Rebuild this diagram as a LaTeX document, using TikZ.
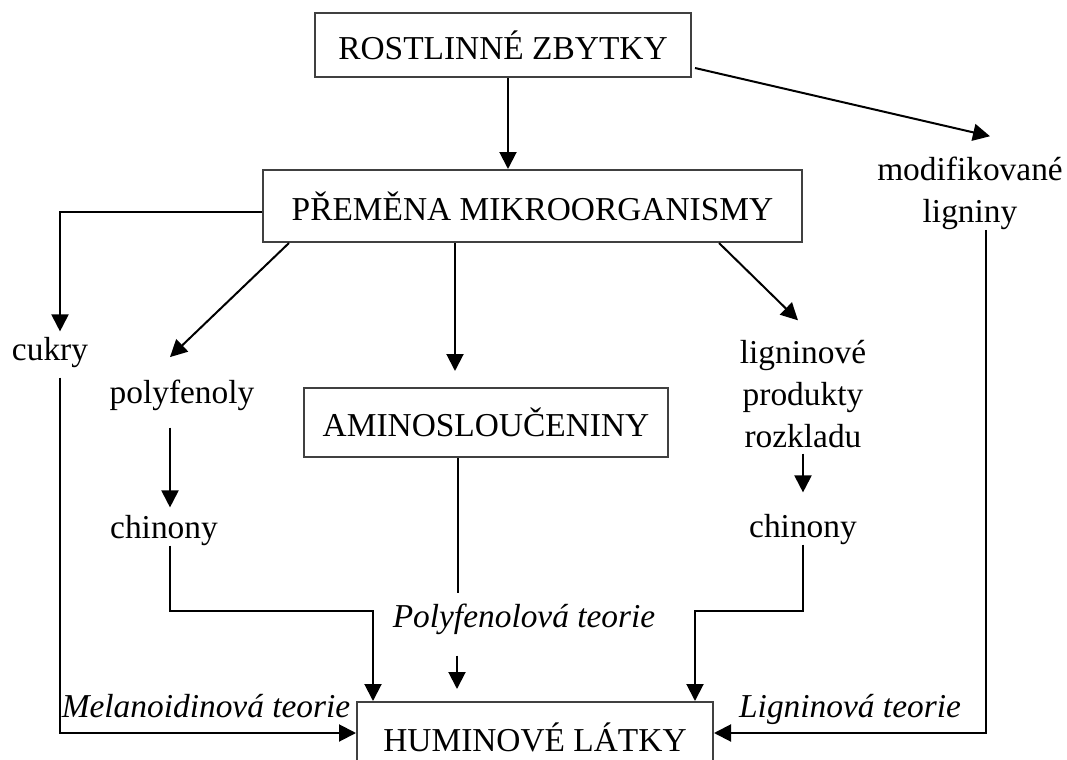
\documentclass[tikz,border=0pt]{standalone}
\usepackage{fontspec}
\setmainfont{Liberation Serif}
\usetikzlibrary{arrows.meta}
\newcommand{\diagfont}{\fontsize{16.7}{21}\selectfont}
\begin{document}
\begin{tikzpicture}[x=0.5pt,y=-0.5pt]

% definitions
\tikzstyle{box} = [rectangle, draw=black!75, line width=1pt, inner sep=0pt, font=\diagfont]
\tikzstyle{txt} = [inner sep=0pt, anchor=base, font=\diagfont]
\tikzstyle{multi} = [inner sep=0pt, align=center, font=\diagfont]
\tikzstyle{theory} = [inner sep=0pt, anchor=base, font=\diagfont\itshape]


\tikzstyle{arrow} = [-{Triangle[length=8.5pt,width=8.5pt]}, line width=1pt]
\tikzstyle{line} = [line width=1pt]

\useasboundingbox (0,0) rectangle (1067,760);

% the graph
\node (rz) [box, minimum width=188pt, minimum height=32pt] at (503,45) {ROSTLINNÉ ZBYTKY};
\node (pm) [box, minimum width=269.5pt, minimum height=36pt] at (532.5,206) {PŘEMĚNA MIKROORGANISMY};
\node (am) [box, minimum width=182pt, minimum height=34.5pt] at (486,422.5) {AMINOSLOUČENINY};
\node (hl) [box, minimum width=178pt, minimum height=35pt] at (535,737) {HUMINOVÉ LÁTKY};

\node (ml) [multi] at (970,193) {modifikované\\ligniny};
\node (cukry) [txt] at (50,360) {cukry};
\node (pf) [txt] at (182,403) {polyfenoly};
\node (ch1) [txt] at (164,538) {chinony};
\node (lp) [multi] at (803,394.5) {ligninové\\produkty\\rozkladu};
\node (ch2) [txt] at (803,537) {chinony};

\node (pt) [theory] at (524,627) {Polyfenolová teorie};
\node (mt) [theory] at (206,717) {Melanoidinová teorie};
\node (lt) [theory] at (850,717) {Ligninová teorie};


\draw [arrow] ([xshift=2.5pt]rz.south) -- ([xshift=2.5pt]rz.south |- pm.north);
\draw [arrow] ([xshift=1.5pt,yshift=-11.5pt]rz.east) -- ([xshift=10pt,yshift=10pt]ml.north);

\draw [arrow] ([yshift=-3pt]pm.west) -| ([xshift=5pt,yshift=2.5pt]cukry.north);
\draw [arrow] ([xshift=5pt,yshift=-5pt]cukry.south) |- ([yshift=2pt]hl.west);

\draw [arrow] ([xshift=13.5pt]pm.south west) -- ([xshift=-6pt,yshift=11pt]pf.north);
\draw [arrow] ([xshift=-6pt,yshift=-8.5pt]pf.south) -- ([xshift=3pt,yshift=3.5pt]ch1.north);
\draw [arrow] ([xshift=3pt]ch1.south) -- ++(0,65) -| ([xshift=-81pt]hl.north);

\draw [arrow] ([xshift=-38.75pt]pm.south) -- ([xshift=-15.5pt,yshift=8pt]am.north);
\draw [line] ([xshift=-14pt]am.south) -- ([xshift=-14pt,yshift=-67.5pt]am.south);
\draw [arrow] ([xshift=-33.5pt,yshift=-10.5pt]pt.south) -- ([xshift=-39pt,yshift=6pt]hl.north);

\draw [arrow] ([xshift=-42pt]pm.south east) -- ([xshift=-2.5pt,yshift=10pt]lp.north);
\draw [arrow] ([yshift=-2.5pt]lp.south) -- ([yshift=10.5pt]ch2.north);
\draw [arrow] (ch2.south) -- ++(0,66) -| ([xshift=80pt]hl.north);

\draw [arrow] ([xshift=8pt]ml.south) |- ([yshift=2pt]hl.east);

\end{tikzpicture}
\end{document}
